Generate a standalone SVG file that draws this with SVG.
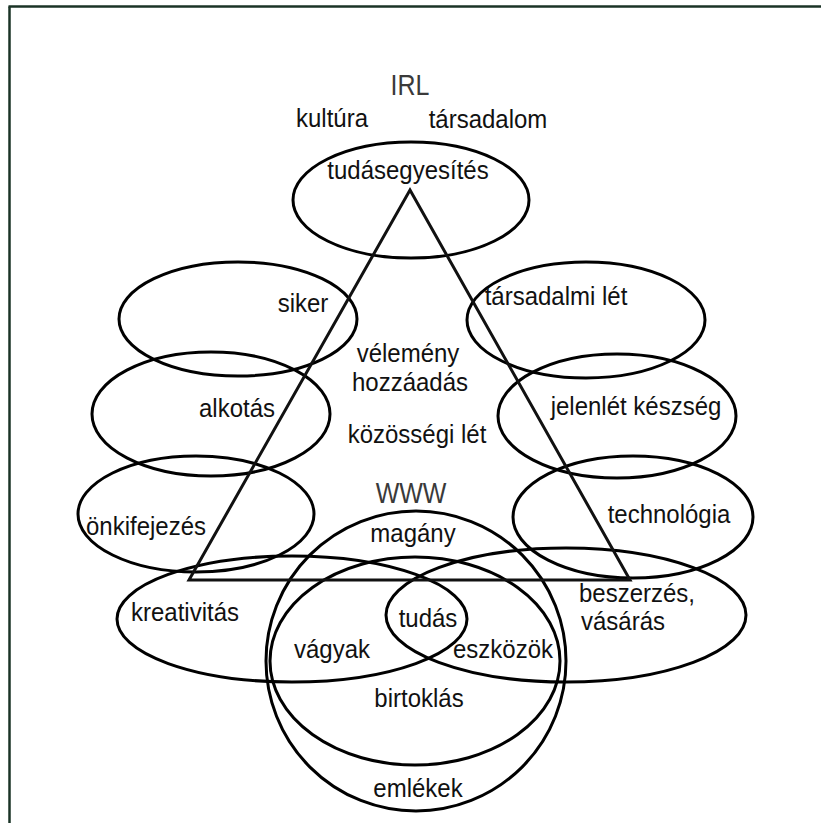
<svg xmlns="http://www.w3.org/2000/svg" width="821" height="823" viewBox="0 0 821 823">
<style>
.bg{fill:#ffffff}
.frame{stroke:#1a3326;stroke-width:2.5;fill:none}
.ell{fill:none;stroke:#000;stroke-width:3}
.tri{fill:none;stroke:#111;stroke-width:3;stroke-linejoin:miter}
text{font-family:"Liberation Sans",Arial,sans-serif;font-size:24px;fill:#111;text-anchor:middle}
.big{font-size:25px;fill:#3a3a3a}
.left{text-anchor:start}
</style>
<rect class="bg" x="0" y="0" width="821" height="823"/>
<g id="frame">
<line class="frame" x1="8.5" y1="6.5" x2="821" y2="6.5"/>
<line class="frame" x1="9.5" y1="6.5" x2="9.5" y2="823"/>
</g>
<g id="heading">
<text class="big" transform="translate(410 95) scale(1 1.18)">IRL</text>
<text transform="translate(332 127) scale(1 1.1)">kultúra</text>
<text transform="translate(488 128) scale(1 1.1)">társadalom</text>
</g>
<g id="n-tudasegyesites">
<ellipse class="ell" cx="411" cy="200" rx="118" ry="58"/>
<text transform="translate(408 179) scale(1 1.1)">tudásegyesítés</text>
</g>
<g id="n-siker">
<ellipse class="ell" cx="238" cy="319" rx="119" ry="57"/>
<text transform="translate(303 312) scale(1 1.1)">siker</text>
</g>
<g id="n-alkotas">
<ellipse class="ell" cx="211" cy="414" rx="119" ry="62"/>
<text transform="translate(237 417) scale(1 1.1)">alkotás</text>
</g>
<g id="n-onkifejezes">
<ellipse class="ell" cx="196" cy="514" rx="118" ry="58"/>
<text transform="translate(146 535) scale(1 1.1)">önkifejezés</text>
</g>
<g id="n-tarsadalmi-let">
<ellipse class="ell" cx="586" cy="320" rx="119" ry="58"/>
<text transform="translate(556 305) scale(1 1.1)">társadalmi lét</text>
</g>
<g id="n-jelenlet">
<ellipse class="ell" cx="617" cy="416" rx="119" ry="62"/>
<text transform="translate(636 415) scale(1 1.1)">jelenlét készség</text>
</g>
<g id="n-technologia">
<ellipse class="ell" cx="633" cy="517" rx="120" ry="61"/>
<text transform="translate(669 523) scale(1 1.1)">technológia</text>
</g>
<g id="n-center">
<text transform="translate(408 362) scale(1 1.05)">vélemény</text>
<text transform="translate(410 391) scale(1 1.05)">hozzáadás</text>
<text transform="translate(417 443) scale(1 1.1)">közösségi lét</text>
</g>
<g id="n-www">
<circle class="ell" cx="416" cy="661" r="150"/>
<text class="big" transform="translate(411 503) scale(1 1.18)">WWW</text>
<text transform="translate(413 542) scale(1 1.1)">magány</text>
<text transform="translate(418 797) scale(1 1.1)">emlékek</text>
</g>
<g id="n-birtoklas">
<ellipse class="ell" cx="415" cy="661" rx="145" ry="104"/>
<text transform="translate(419 707) scale(1 1.1)">birtoklás</text>
</g>
<g id="n-kreativitas">
<ellipse class="ell" cx="292" cy="619" rx="175" ry="63"/>
<text transform="translate(185 621) scale(1 1.1)">kreativitás</text>
<text transform="translate(332 658) scale(1 1.1)">vágyak</text>
</g>
<g id="n-beszerzes">
<ellipse class="ell" cx="566" cy="615" rx="180" ry="67"/>
<text class="left" transform="translate(579 602) scale(1 1.1)">beszerzés,</text>
<text class="left" transform="translate(581 630) scale(1 1.1)">vásárás</text>
<text transform="translate(503 658) scale(1 1.1)">eszközök</text>
</g>
<g id="n-tudas">
<text transform="translate(428 627) scale(1 1.1)">tudás</text>
</g>
<g id="connectors">
<polygon class="tri" points="410,190 630,580 189,580"/>
</g>
</svg>
